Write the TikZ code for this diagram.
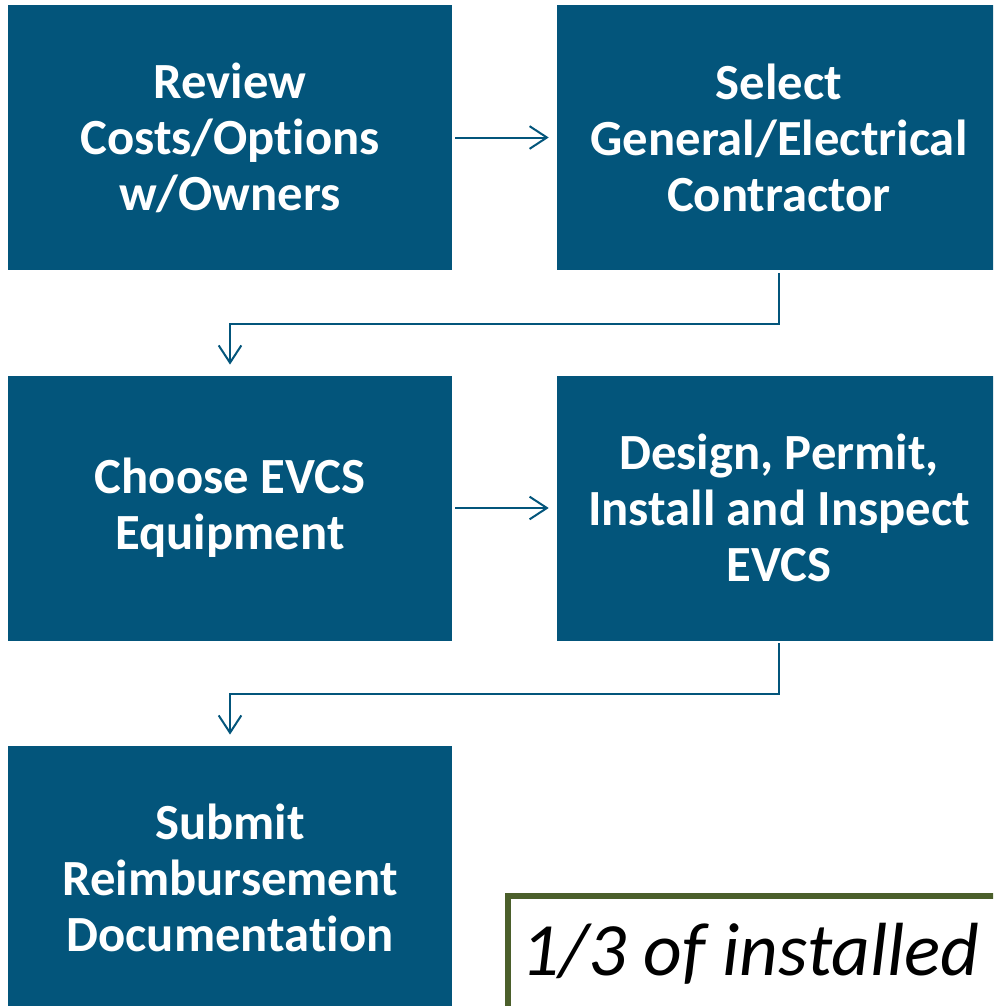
\documentclass[tikz,border=0pt]{standalone}
\usepackage{fontspec}
\setmainfont{Carlito}[Ligatures=NoCommon]
\usetikzlibrary{arrows.meta}
\definecolor{boxblue}{HTML}{03557B}
\definecolor{framegreen}{HTML}{4B5F2B}
\begin{document}
\begin{tikzpicture}[x=0.75pt,y=-0.75pt,
  stepbox/.style={fill=boxblue,draw=none,text=white,font=\bfseries\fontsize{38}{42}\selectfont,align=center,minimum width=333pt,minimum height=198.75pt,inner sep=0pt},
  flow/.style={draw=boxblue,line width=1.5pt,-{Straight Barb[length=13pt,width=17pt,line width=1.5pt]}}]
\clip (0,0) rectangle (993,1006);
\node[stepbox] (a) at (230,137.5) {Review\\Costs/Options\\w/Owners};
\node[stepbox] (b) at (779,137.5) {Select\\General/Electrical\\Contractor};
\node[stepbox] (c) at (230,508) {Choose EVCS\\Equipment};
\node[stepbox] (d) at (779,508) {Design, Permit,\\Install and Inspect\\EVCS};
\node[stepbox] (e) at (230,878) {Submit\\Reimbursement\\Documentation};
\node[draw=framegreen,line width=4.5pt,fill=white,anchor=base west,font=\itshape\fontsize{56.5}{60}\selectfont,text=black,inner xsep=10pt,inner ysep=0pt,text height=59.25pt,text depth=30pt] (f) at (505,975) {1/3 of installed\hspace*{200pt}};
\draw[flow] ([xshift=2.25pt]a.east) -- ([xshift=-6pt]b.east -| b.west);
\draw[flow] ([yshift=-2pt]b.south) |- ++(0,51) coordinate (m1) -| ([yshift=8pt]c.north);
\draw[flow] ([xshift=2.25pt]c.east) -- ([xshift=-6pt]d.east -| d.west);
\draw[flow] ([yshift=-2pt]d.south) |- ++(0,51) coordinate (m2) -| ([yshift=8pt]e.north);
\end{tikzpicture}
\end{document}
